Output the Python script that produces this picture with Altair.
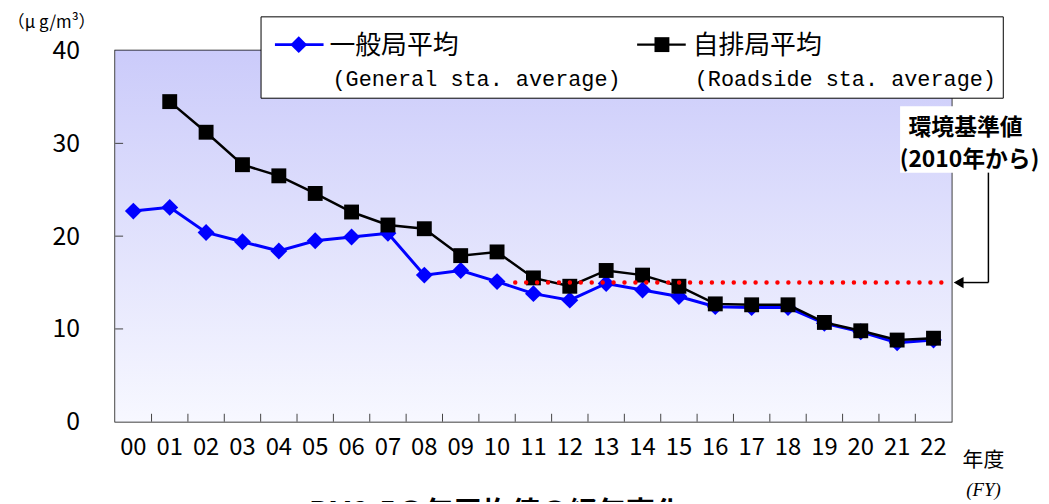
import altair as alt
import pandas as pd

# ---- data ----
years = ["00", "01", "02", "03", "04", "05", "06", "07", "08", "09", "10", "11",
         "12", "13", "14", "15", "16", "17", "18", "19", "20", "21", "22"]
general = [22.7, 23.1, 20.4, 19.4, 18.4, 19.5, 19.9, 20.3, 15.8, 16.3, 15.1, 13.8,
           13.1, 14.9, 14.2, 13.5, 12.4, 12.3, 12.3, 10.6, 9.7, 8.5, 8.8]
roadside = [None, 34.5, 31.2, 27.7, 26.5, 24.6, 22.6, 21.2, 20.8, 17.9, 18.3, 15.5,
            14.6, 16.3, 15.8, 14.6, 12.7, 12.6, 12.6, 10.7, 9.8, 8.8, 9.0]
y_ticks = [0, 10, 20, 30, 40]
standard_value = 15
standard_start = "11"

series_general = "一般局平均"
series_roadside = "自排局平均"
general_en = "(General sta. average)"
roadside_en = "(Roadside sta. average)"
unit_label = "（μ g/m³）"
fy_label = "年度"
fy_en = "(FY)"
note1 = "環境基準値"
note2 = "(2010年から)"
title_text = "PM2.5の年平均値の経年変化"

W, H = 843, 374
JP = "Noto Sans CJK JP"
MONO = "Liberation Mono"

gen_df = pd.DataFrame({"year": years, "v": general})
road_df = pd.DataFrame({"year": years, "v": roadside}).dropna()
std_df = pd.DataFrame({"year": [standard_start], "v": [standard_value]})
ytick_df = pd.DataFrame({"v": y_ticks[1:-1]})
xtick_df = pd.DataFrame({"year": years[1:]})
one = pd.DataFrame({"a": [0]})

xscale = alt.Scale(type="band", domain=years, paddingInner=0, paddingOuter=0)
yscale = alt.Scale(domain=[0, 40], nice=False, zero=True)
xaxis = alt.Axis(title=None, labelAngle=0, tickSize=0, domain=False,
                 labelFont=JP, labelFontSize=24, labelColor="#000",
                 labelPadding=14)
yaxis = alt.Axis(title=None, values=y_ticks, tickSize=0, domain=False, grid=False,
                 labelFont=JP, labelFontSize=25, labelColor="#000",
                 labelPadding=36)


def X(bp=0.5):
    return alt.X("year:O", scale=xscale, axis=xaxis, bandPosition=bp)


def Y():
    return alt.Y("v:Q", scale=yscale, axis=yaxis)


def txt(s, x, y, size, align="left", font=JP, **kw):
    return alt.Chart(one).mark_text(text=s, align=align, baseline="middle",
                                    font=font, fontSize=size, color="#000",
                                    **kw).encode(x=alt.value(x), y=alt.value(y))


bg = alt.Chart(one).mark_rect(
    color=alt.Gradient(gradient="linear",
                       stops=[alt.GradientStop(color="#CBCBFA", offset=0),
                              alt.GradientStop(color="#F7F8FF", offset=1)],
                       x1=0, x2=0, y1=0, y2=1)
).encode(x=alt.value(0), x2=alt.value(W), y=alt.value(0), y2=alt.value(H))

yticks = alt.Chart(ytick_df).mark_rule(color="#444", strokeWidth=1).encode(
    y=Y(), x=alt.value(0), x2=alt.value(8))
xticks = alt.Chart(xtick_df).mark_rule(color="#444", strokeWidth=1).encode(
    x=X(0), y=alt.value(H - 8), y2=alt.value(H))

gen_line = alt.Chart(gen_df).mark_line(color="#0000FF", strokeWidth=3).encode(x=X(), y=Y())
gen_pts = alt.Chart(gen_df).mark_point(shape="diamond", filled=True, size=290,
                                       color="#0000FF", opacity=1).encode(x=X(), y=Y())
road_line = alt.Chart(road_df).mark_line(color="#000", strokeWidth=2.5).encode(x=X(), y=Y())
road_pts = alt.Chart(road_df).mark_point(shape="square", filled=True, size=225,
                                         color="#000", opacity=1).encode(x=X(), y=Y())

std_line = alt.Chart(std_df).mark_rule(color="#FF0000", strokeWidth=4.5,
                                       strokeDash=[0.01, 11], strokeCap="round").encode(
    x=X(0), x2=alt.value(W - 6), y=Y())

# annotation: white box, text, arrow
note_box = alt.Chart(one).mark_rect(color="#FFFFFF").encode(
    x=alt.value(791), x2=alt.value(935), y=alt.value(56), y2=alt.value(123))
note_t1 = txt(note1, 857, 78, 23, align="center", fontWeight="bold")
note_t2 = txt(note2, 861, 110, 23, align="center", fontWeight="bold")
arrow_v = alt.Chart(std_df).mark_rule(color="#000", strokeWidth=1.5).encode(
    x=alt.value(880), y=Y(), y2=alt.value(123))
arrow_h = alt.Chart(std_df).mark_rule(color="#000", strokeWidth=1.5).encode(
    x=alt.value(852), x2=alt.value(880), y=Y())
arrow_head = alt.Chart(std_df).mark_point(shape="triangle-left", filled=True, size=130,
                                          color="#000", opacity=1).encode(
    x=alt.value(W + 7), y=Y())

# legend box
leg_box = alt.Chart(one).mark_rect(color="#FFFFFF", stroke="#000", strokeWidth=1).encode(
    x=alt.value(147), x2=alt.value(895), y=alt.value(-34), y2=alt.value(48))
leg_gl = alt.Chart(one).mark_rule(color="#0000FF", strokeWidth=3).encode(
    x=alt.value(161), x2=alt.value(210), y=alt.value(-6))
leg_gp = alt.Chart(one).mark_point(shape="diamond", filled=True, size=290,
                                   color="#0000FF", opacity=1).encode(
    x=alt.value(185), y=alt.value(-6))
leg_rl = alt.Chart(one).mark_rule(color="#000", strokeWidth=2.5).encode(
    x=alt.value(526), x2=alt.value(575), y=alt.value(-6))
leg_rp = alt.Chart(one).mark_point(shape="square", filled=True, size=225,
                                   color="#000", opacity=1).encode(
    x=alt.value(551), y=alt.value(-6))
leg_t1 = txt(series_general, 216, -5, 26)
leg_t2 = txt(general_en, 219, 29, 22, font=MONO)
leg_t3 = txt(series_roadside, 582, -5, 26)
leg_t4 = txt(roadside_en, 584, 29, 22, font=MONO)

unit_t = txt(unit_label, -64, -28, 17, align="center")
fy_t = txt(fy_label, 875, 414, 21, align="center")
fy_en_t = txt(fy_en, 875, 443, 19, align="center", font="Liberation Serif",
              fontStyle="italic")
title_t = alt.Chart(one).mark_text(text=title_text, align="center", baseline="top",
                                   font=JP, fontSize=29, fontWeight="bold",
                                   color="#000").encode(x=alt.value(384), y=alt.value(452))

chart = alt.layer(
    bg, yticks, xticks, gen_line, gen_pts, road_line, road_pts, std_line,
    note_box, note_t1, note_t2, arrow_v, arrow_h, arrow_head,
    leg_box, leg_gl, leg_gp, leg_rl, leg_rp, leg_t1, leg_t2, leg_t3, leg_t4,
    unit_t, fy_t, fy_en_t, title_t
).properties(
    width=W, height=H,
    padding={"left": 108, "top": 41, "right": 90, "bottom": 79},
    autosize=alt.AutoSizeParams(type="none"),
    background="#FFFFFF"
).configure_view(stroke="#000", strokeWidth=1.5)

chart.save("out.html", embed_options={"renderer": "svg", "actions": False})
